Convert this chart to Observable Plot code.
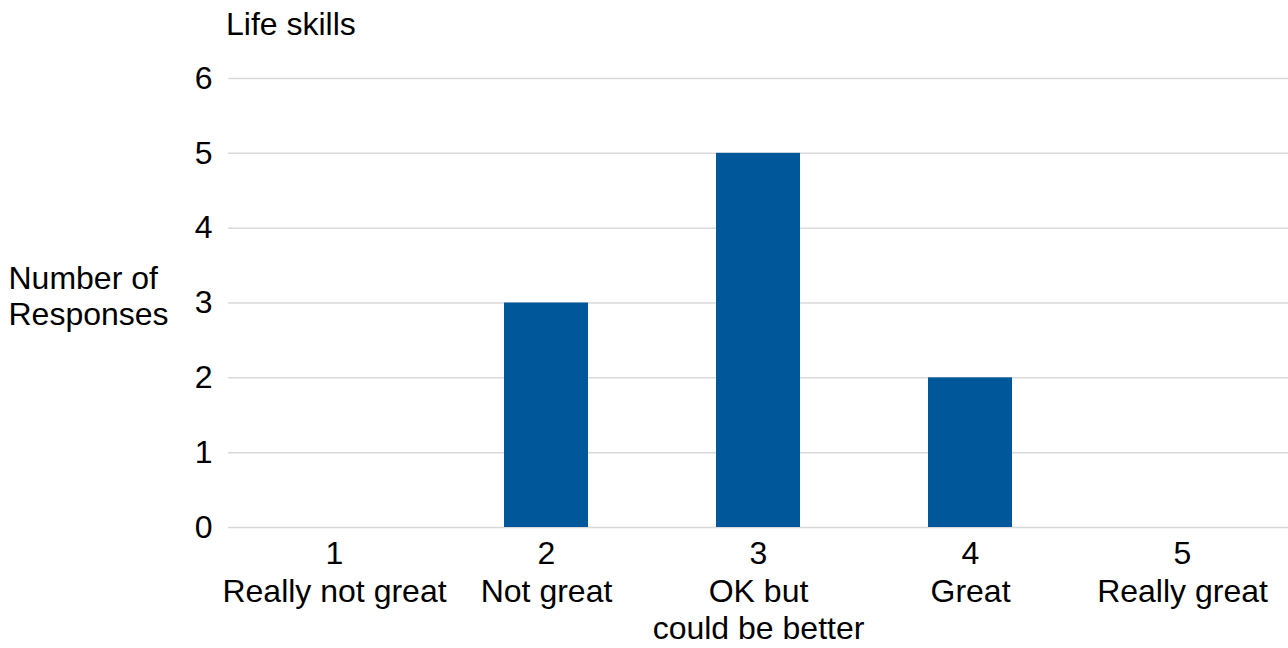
<!DOCTYPE html>
<html>
<head>
<meta charset="utf-8">
<script src="https://cdn.jsdelivr.net/npm/d3@7"></script>
<script src="https://cdn.jsdelivr.net/npm/@observablehq/plot@0.6"></script>
<style>
  html, body { margin: 0; padding: 0; background: #fff; }
  body { width: 1288px; height: 648px; overflow: hidden; font-family: "Liberation Sans", Arial, sans-serif; }
  #title { height: 50px; font-size: 32px; line-height: 48px; padding-left: 226px; color: #000; }
  svg { display: block; }
</style>
</head>
<body>
<div id="title">Life skills</div>
<div id="chart"></div>
<script>
const categories = ["1\nReally not great", "2\nNot great", "3\nOK but\ncould be better", "4\nGreat", "5\nReally great"];
const responses = [0, 3, 5, 2, 0];
const yTicks = [0, 1, 2, 3, 4, 5, 6];
const yLabel = "Number of\nResponses";

const data = categories.map((c, i) => ({category: c, value: responses[i]}));

const chart = Plot.plot({
  width: 1288,
  height: 598,
  marginLeft: 228,
  marginRight: 0,
  marginTop: 28,
  marginBottom: 121,
  style: {fontFamily: "Liberation Sans, Arial, sans-serif", fontSize: "32px", color: "#000", background: "#fff"},
  x: {domain: categories, paddingInner: 0.604, paddingOuter: 0.302, label: null},
  y: {domain: [0, 6], label: null},
  marks: [
    Plot.gridY(yTicks, {stroke: "#d9d9d9", strokeOpacity: 1, strokeWidth: 1.5}),
    Plot.barY(data, {x: "category", y: "value", fill: "#00589a"}),
    Plot.axisY(yTicks, {tickSize: 0, tickPadding: 16, fontSize: 32, tickFormat: d3.format("d"), label: null, fill: "#000"}),
    Plot.axisX({tickSize: 0, tickPadding: 10, fontSize: 32, label: null, lineHeight: 1.17, fill: "#000"}),
    Plot.text([yLabel], {frameAnchor: "left", dx: -220, dy: -8, textAnchor: "start", fontSize: 32, lineHeight: 1.13, fill: "#000"})
  ]
});
document.getElementById("chart").appendChild(chart);
</script>
</body>
</html>
